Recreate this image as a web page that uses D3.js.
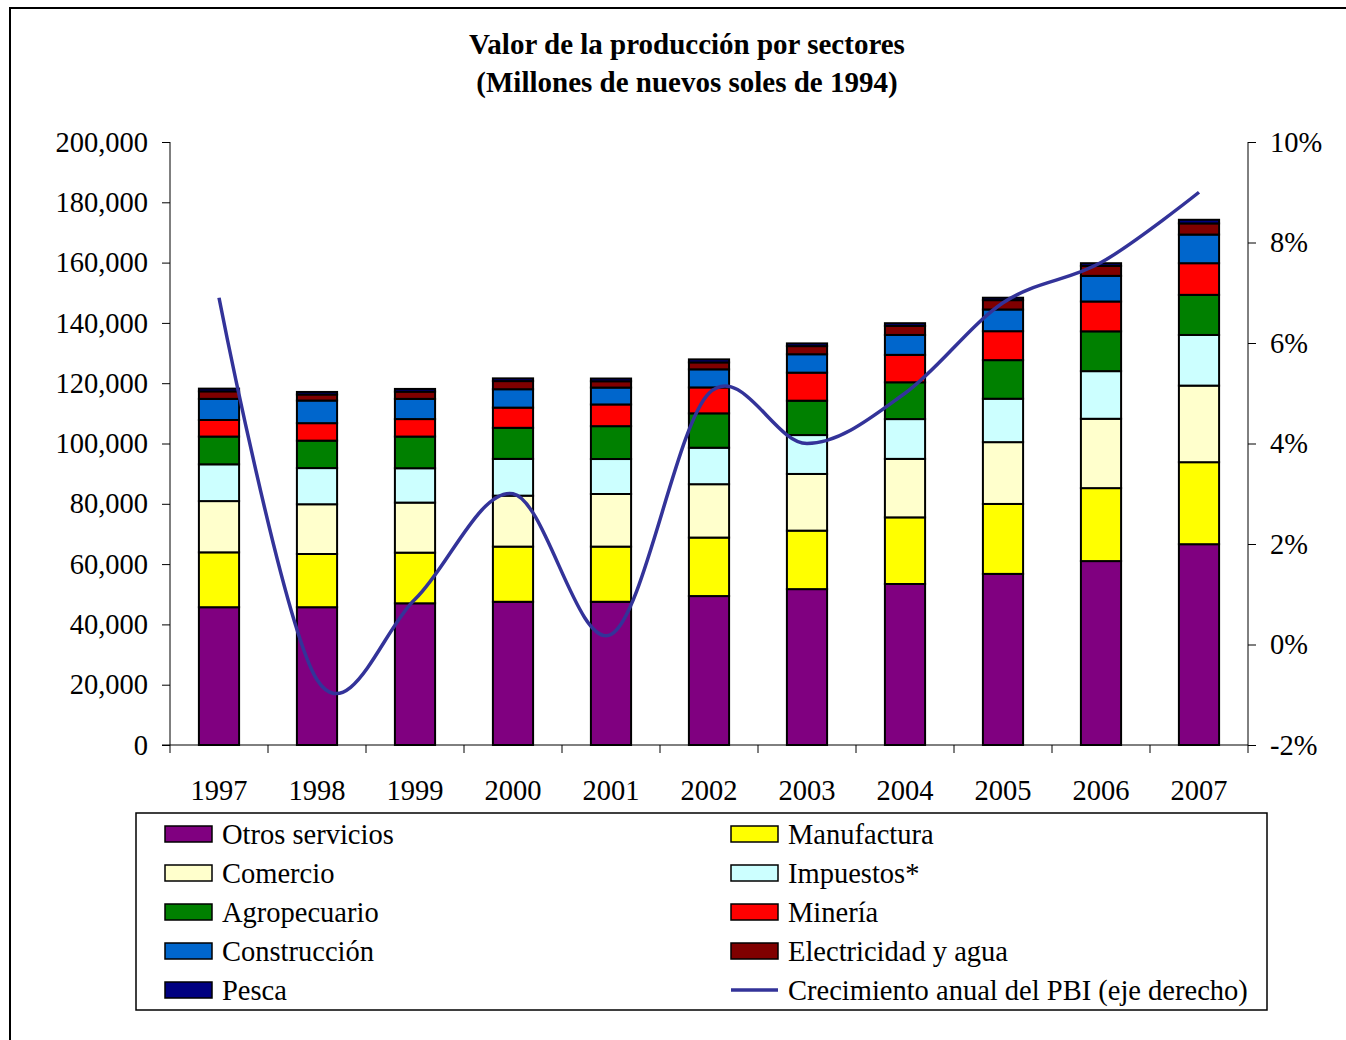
<!DOCTYPE html>
<html>
<head>
<meta charset="utf-8">
<script src="https://cdn.jsdelivr.net/npm/d3@7"></script>
<style>
  body { margin: 0; background: #fff; overflow: hidden; }
  text { font-family: "Liberation Serif", "DejaVu Serif", serif; fill: #000; }
</style>
</head>
<body>
<div id="chart"></div>
<script>
// chart data (millones de nuevos soles de 1994)
var years = ["1997", "1998", "1999", "2000", "2001", "2002", "2003", "2004", "2005", "2006", "2007"];
var otrosServicios = [45700, 45700, 47000, 47500, 47500, 49400, 51700, 53400, 56750, 61000, 66600];
var manufactura    = [18200, 17650, 16800, 18300, 18300, 19400, 19400, 22100, 23200, 24200, 27200];
var comercio       = [17000, 16500, 16600, 16900, 17450, 17700, 18800, 19400, 20500, 23000, 25400];
var impuestos      = [12200, 12000, 11400, 12200, 11600, 12100, 12900, 13200, 14400, 15800, 16800];
var agropecuario   = [9200, 9100, 10500, 10300, 10900, 11400, 11400, 12200, 12800, 13200, 13300];
var mineria        = [5500, 5800, 5800, 6700, 7200, 8600, 9300, 9100, 9600, 9900, 10500];
var construccion   = [7000, 7500, 6700, 6100, 5600, 6000, 6100, 6600, 7200, 8500, 9500];
var electricidad   = [2500, 2000, 2400, 2700, 2100, 2300, 2700, 3000, 3100, 3300, 3700];
var pesca          = [900, 850, 900, 900, 900, 1000, 900, 900, 800, 900, 1200];
var crecimiento    = [6.9, -0.7, 0.9, 3.0, 0.2, 5.0, 4.0, 5.0, 6.8, 7.6, 9.0];

var leftTicks = [0, 20000, 40000, 60000, 80000, 100000, 120000, 140000, 160000, 180000, 200000];
var rightTicks = [-2, 0, 2, 4, 6, 8, 10];

var series = [
    { key: "otros", name: "Otros servicios", values: otrosServicios, color: "#800080" },
    { key: "manuf", name: "Manufactura", values: manufactura, color: "#FFFF00" },
    { key: "comercio", name: "Comercio", values: comercio, color: "#FFFFCC" },
    { key: "impuestos", name: "Impuestos*", values: impuestos, color: "#CCFFFF" },
    { key: "agro", name: "Agropecuario", values: agropecuario, color: "#008000" },
    { key: "mineria", name: "Minería", values: mineria, color: "#FF0000" },
    { key: "construccion", name: "Construcción", values: construccion, color: "#0066CC" },
    { key: "electricidad", name: "Electricidad y agua", values: electricidad, color: "#800000" },
    { key: "pesca", name: "Pesca", values: pesca, color: "#000080" }
];
var lineName = "Crecimiento anual del PBI (eje derecho)";
var lineColor = "#333399";

var W = 1346, H = 1040;
var plot = { left: 170, right: 1248, top: 142, bottom: 745 };
var fs = "28.5px";

var svg = d3.select("#chart").append("svg")
    .attr("width", W)
    .attr("height", H);

// outer frame (only top and left edges are inside the picture)
svg.append("rect")
    .attr("x", 10).attr("y", 8)
    .attr("width", 1400).attr("height", 1100)
    .attr("fill", "none")
    .attr("stroke", "#000")
    .attr("stroke-width", 2);

// title
svg.append("text")
    .attr("x", 687).attr("y", 54)
    .attr("text-anchor", "middle")
    .style("font-size", "29px").style("font-weight", "bold")
    .text("Valor de la producción por sectores");
svg.append("text")
    .attr("x", 687).attr("y", 92)
    .attr("text-anchor", "middle")
    .style("font-size", "29px").style("font-weight", "bold")
    .text("(Millones de nuevos soles de 1994)");

// scales
var x = d3.scaleBand()
    .domain(years)
    .range([plot.left, plot.right])
    .paddingInner(0.59)
    .paddingOuter(0.295);
var y = d3.scaleLinear().domain([0, 200000]).range([plot.bottom, plot.top]);
var y2 = d3.scaleLinear().domain([-2, 10]).range([plot.bottom, plot.top]);

// stacked data
var rows = years.map(function (yr, i) {
    var r = { year: yr };
    series.forEach(function (s) { r[s.key] = s.values[i]; });
    return r;
});
var stacked = d3.stack().keys(series.map(function (s) { return s.key; }))(rows);

var layers = svg.append("g").selectAll("g")
    .data(stacked)
    .enter().append("g")
    .attr("fill", function (d, i) { return series[i].color; });

layers.selectAll("rect")
    .data(function (d) { return d; })
    .enter().append("rect")
    .attr("x", function (d) { return x(d.data.year); })
    .attr("width", x.bandwidth())
    .attr("y", function (d) { return y(d[1]); })
    .attr("height", function (d) { return y(d[0]) - y(d[1]); })
    .attr("stroke", "#000")
    .attr("stroke-width", 2);

// left axis
var leftAxis = d3.axisLeft(y)
    .tickValues(leftTicks)
    .tickSize(8)
    .tickPadding(14)
    .tickFormat(d3.format(","));
var gl = svg.append("g")
    .attr("transform", "translate(" + plot.left + ",0)")
    .call(leftAxis);
gl.select(".domain").attr("d", "M0," + plot.top + "V" + plot.bottom);
gl.selectAll("text").style("font-size", fs).style("font-family", "Liberation Serif, serif");

// right axis
var rightAxis = d3.axisRight(y2)
    .tickValues(rightTicks)
    .tickSize(8)
    .tickPadding(14)
    .tickFormat(function (d) { return d + "%"; });
var gr = svg.append("g")
    .attr("transform", "translate(" + plot.right + ",0)")
    .call(rightAxis);
gr.select(".domain").attr("d", "M0," + plot.top + "V" + plot.bottom);
gr.selectAll("text").style("font-size", fs).style("font-family", "Liberation Serif, serif");

// x axis: line, ticks between categories, labels
var gx = svg.append("g");
gx.append("line")
    .attr("x1", plot.left - 8).attr("x2", plot.right)
    .attr("y1", plot.bottom).attr("y2", plot.bottom)
    .attr("stroke", "#000");
var tickXs = years.map(function (d) { return x(d) - x.step() * x.paddingInner() / 2; });
tickXs.push(plot.right);
gx.selectAll(".xtick")
    .data(tickXs)
    .enter().append("line")
    .attr("x1", function (d) { return d; }).attr("x2", function (d) { return d; })
    .attr("y1", plot.bottom).attr("y2", plot.bottom + 8)
    .attr("stroke", "#000");
gx.selectAll(".xlabel")
    .data(years)
    .enter().append("text")
    .attr("x", function (d) { return x(d) + x.bandwidth() / 2; })
    .attr("y", 800)
    .attr("text-anchor", "middle")
    .style("font-size", fs)
    .text(function (d) { return d; });

// growth line, smoothed
var line = d3.line()
    .x(function (d, i) { return x(years[i]) + x.bandwidth() / 2; })
    .y(function (d) { return y2(d); })
    .curve(d3.curveCatmullRom.alpha(0));
svg.append("path")
    .datum(crecimiento)
    .attr("d", line)
    .attr("fill", "none")
    .attr("stroke", lineColor)
    .attr("stroke-width", 3.5);

// legend
var legend = svg.append("g");
legend.append("rect")
    .attr("x", 136).attr("y", 813)
    .attr("width", 1131).attr("height", 197)
    .attr("fill", "#fff")
    .attr("stroke", "#000")
    .attr("stroke-width", 1.5);

var legendItems = series.map(function (s) { return { name: s.name, color: s.color, type: "rect" }; });
legendItems.push({ name: lineName, color: lineColor, type: "line" });

var li = legend.selectAll(".item")
    .data(legendItems)
    .enter().append("g")
    .attr("transform", function (d, i) {
        var col = i % 2, row = Math.floor(i / 2);
        return "translate(" + (col === 0 ? 165 : 731) + "," + (834 + row * 39) + ")";
    });
li.filter(function (d) { return d.type === "rect"; })
    .append("rect")
    .attr("x", 0).attr("y", -8)
    .attr("width", 47).attr("height", 16)
    .attr("fill", function (d) { return d.color; })
    .attr("stroke", "#000")
    .attr("stroke-width", 1.5);
li.filter(function (d) { return d.type === "line"; })
    .append("line")
    .attr("x1", 0).attr("x2", 47)
    .attr("y1", 0).attr("y2", 0)
    .attr("stroke", function (d) { return d.color; })
    .attr("stroke-width", 3.5);
li.append("text")
    .attr("x", 57).attr("y", 10)
    .style("font-size", fs)
    .text(function (d) { return d.name; });
</script>
</body>
</html>
